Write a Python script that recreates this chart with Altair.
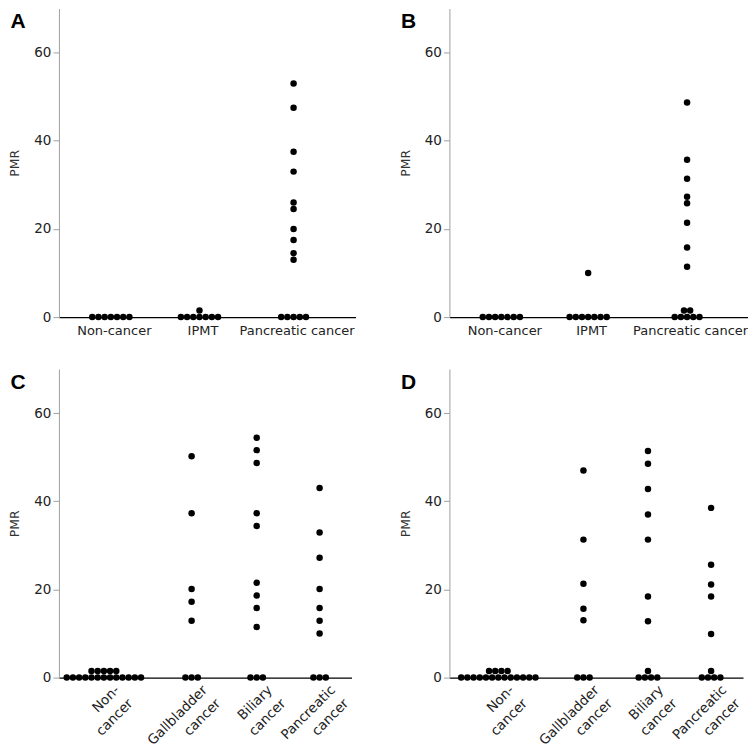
import altair as alt
import pandas as pd

# ---------------- data ----------------
ab_cats = ["Non-cancer", "IPMT", "Pancreatic cancer"]
cd_cats = ["Non-cancer", "Gallbladder cancer", "Biliary cancer", "Pancreatic cancer"]
cd_labels = [["Non-", "cancer"], ["Gallbladder", "cancer"], ["Biliary", "cancer"], ["Pancreatic", "cancer"]]

a_non = [0, 0, 0, 0, 0, 0, 0]
a_ipmt = [0, 0, 0, 0, 0, 0, 0, 1.5]
a_panc = [0, 0, 0, 0, 0, 53, 47.5, 37.5, 33, 26, 24.5, 20, 17.5, 14.5, 13]

b_non = [0, 0, 0, 0, 0, 0, 0]
b_ipmt = [0, 0, 0, 0, 0, 0, 0, 10]
b_panc = [0, 0, 0, 0, 0, 1.5, 1.5, 48.7, 35.7, 31.4, 27.3, 25.8, 21.4, 15.8, 11.4]

c_non = [0, 0, 0, 0, 0, 0, 0, 0, 0, 0, 0, 0, 0, 1.5, 1.5, 1.5, 1.5, 1.5]
c_gall = [0, 0, 0, 50.2, 37.3, 20.1, 17.2, 12.9]
c_bil = [0, 0, 0, 54.4, 51.6, 48.7, 37.3, 34.4, 21.5, 18.6, 15.8, 11.5]
c_panc = [0, 0, 0, 43.0, 32.9, 27.2, 20.1, 15.8, 12.9, 10.0]

d_non = [0, 0, 0, 0, 0, 0, 0, 0, 0, 0, 0, 0, 0, 1.5, 1.5, 1.5, 1.5]
d_gall = [0, 0, 0, 47.0, 31.3, 21.3, 15.6, 13.0]
d_bil = [0, 0, 0, 0, 1.5, 51.4, 48.5, 42.8, 37.0, 31.3, 18.4, 12.8]
d_panc = [0, 0, 0, 0, 1.5, 38.5, 25.6, 21.1, 18.4, 9.9]

y_ticks = [0, 20, 40, 60]

# ---------------- layout (category centres, in category-step units) -------------
a_pos = [0, 0.97, 2.0]
b_pos = [0, 0.935, 2.0]
c_pos = [0, 1.22, 2.125, 3.0]
d_pos = [0, 1.2, 2.11, 3.0]

FONT = "DejaVu Sans"
DOT_PX = 6.2
H = 309


def build_df(cats, pos, series, dx):
    rows = []
    for cat, p, vals in zip(cats, pos, series):
        counts = {}
        for v in vals:
            counts[v] = counts.get(v, 0) + 1
        for v, n in counts.items():
            for k in range(n):
                rows.append({"group": cat, "xpos": p + (k - (n - 1) / 2) * dx, "PMR": v})
    return pd.DataFrame(rows)


def label_expr(pos, labels):
    expr = repr(labels[-1])
    for i in range(len(pos) - 2, -1, -1):
        mid = (pos[i] + pos[i + 1]) / 2
        expr = f"datum.value < {mid} ? {repr(labels[i])} : ({expr})"
    return expr


def panel(letter, cats, labels, pos, series, domain, width, rotated):
    px_per_unit = width / (domain[1] - domain[0])
    dx = DOT_PX / px_per_unit
    df = build_df(cats, pos, series, dx)
    if rotated:
        xaxis = alt.Axis(values=pos, labelExpr=label_expr(pos, labels), title=None,
                         ticks=False, domainColor="black", domainWidth=1.3,
                         labelAngle=315, labelAlign="right", labelBaseline="top",
                         labelPadding=5, labelOffset=8, labelFontSize=13.5, labelColor="#222",
                         labelFont=FONT, labelOverlap=False, labelFlush=False,
                         labelLineHeight=19, grid=False)
    else:
        xaxis = alt.Axis(values=pos, labelExpr=label_expr(pos, labels), title=None,
                         ticks=False, domainColor="black", domainWidth=1.3,
                         labelAngle=0, labelAlign="center", labelBaseline="top",
                         labelPadding=7, labelOffset=3, labelFontSize=13, labelColor="#222",
                         labelFont=FONT, labelOverlap=False, labelFlush=False, grid=False)
    yaxis = alt.Axis(values=y_ticks, title="PMR", grid=False, domainColor="#a0a0a0",
                     tickColor="#a0a0a0", tickSize=6, labelPadding=2, labelFontSize=13.5,
                     labelColor="#222", labelFont=FONT, titleFont=FONT, titleFontSize=12.5,
                     titleFontWeight="normal", titleColor="#333", titlePadding=12)
    dots = alt.Chart(df).mark_circle(size=42, color="black", opacity=1).encode(
        x=alt.X("xpos:Q", scale=alt.Scale(domain=domain, nice=False, zero=False), axis=xaxis),
        y=alt.Y("PMR:Q", scale=alt.Scale(domain=[0, 70], nice=False), axis=yaxis),
    )
    tag = alt.Chart(pd.DataFrame({"t": [letter]})).mark_text(
        fontSize=21, fontWeight="bold", font="Liberation Sans", align="center",
        baseline="alphabetic", color="black"
    ).encode(text="t:N", x=alt.value(-41), y=alt.value(20))
    return alt.layer(dots, tag).properties(width=width, height=H)


A = panel("A", ab_cats, ab_cats, a_pos, [a_non, a_ipmt, a_panc], [-0.568, 2.678], 297, False)
B = panel("B", ab_cats, ab_cats, b_pos, [b_non, b_ipmt, b_panc], [-0.559, 2.656], 299, False)
C = panel("C", cd_cats, cd_labels, c_pos, [c_non, c_gall, c_bil, c_panc], [-0.625, 3.444], 293, True)
D = panel("D", cd_cats, cd_labels, d_pos, [d_non, d_gall, d_bil, d_panc], [-0.69, 3.45], 294, True)

chart = alt.concat(
    A, B, C, D, columns=2, spacing={"row": 52, "column": 94}, bounds="flush"
).properties(padding=0).configure(background="white").configure_view(strokeWidth=0, stroke="transparent")

chart.save("out.html", embed_options={"renderer": "svg", "actions": False})
